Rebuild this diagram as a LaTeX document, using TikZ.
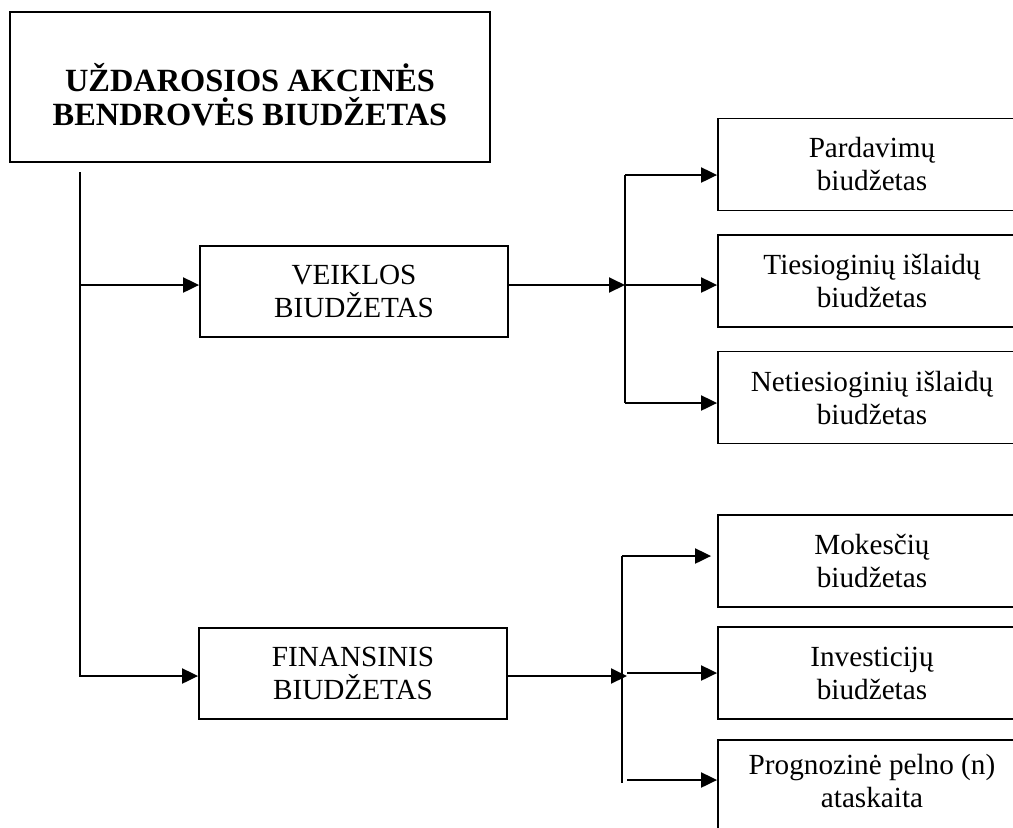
\documentclass[tikz,border=0pt]{standalone}
\usepackage{fontspec}
\setmainfont{Liberation Serif}
\usetikzlibrary{arrows.meta}
\begin{document}
\begin{tikzpicture}[x=0.5pt,y=-0.5pt,
		box/.style={draw,line width=0.9pt,align=center,inner sep=0pt,font=\fontsize{14.6}{16.5}\selectfont},
		arr/.style={line width=1pt,-{Triangle[length=8pt,width=7.5pt]}}]
	\useasboundingbox (0,0) rectangle (1013,827);
	\clip (0,0) rectangle (1013,827);
	\node[box,minimum width=240pt,minimum height=75pt,text height=39pt,font=\fontsize{16.2}{17}\selectfont\bfseries] (ubb) at (250,87) {UŽDAROSIOS AKCINĖS\\BENDROVĖS BIUDŽETAS};
	\node[box,minimum width=154pt,minimum height=45.5pt] (veik) at (354,291.5) {VEIKLOS\\BIUDŽETAS};
	\node[box,minimum width=154pt,minimum height=45.5pt] (fin) at (353,673.5) {FINANSINIS\\BIUDŽETAS};
	\foreach \n/\y/\t in {par/164.5/Pardavimų, tie/281/Tiesioginių išlaidų, net/397.5/Netiesioginių išlaidų, mok/561/Mokesčių, inv/673/Investicijų} {
		\node[box,minimum width=154pt,minimum height=46pt] (\n) at (872,\y) {\t\\biudžetas};
	}
	\node[box,minimum width=154pt,minimum height=48pt,text depth=7pt] (prog) at (872,788) {Prognozinė pelno (n)\\ataskaita};
	\coordinate (trunk) at (80,172);
	\coordinate (v1) at (625,175);
	\coordinate (vsplit) at (625,285);
	\coordinate (v3) at (625,403);
	\coordinate (f1) at (622,556);
	\coordinate (fsplit) at (622,676);
	\coordinate (f2) at (627,673);
	\coordinate (f3) at (622,783);
	\coordinate (f4) at (627,780);
	\draw[arr] (trunk) |- (veik.west |- vsplit);
	\draw[arr] (trunk) |- (fin.west |- fsplit);
	% veiklos
	\draw[arr] (veik.east |- vsplit) -- (vsplit);
	\draw[line width=1pt] (v1) -- (v3);
	\foreach \a/\b in {v1/par,vsplit/tie,v3/net} {
		\draw[arr] (\a) -- (\a -| \b.west);
	}
	% finansinis
	\draw[arr] (fin.east |- fsplit) -- ([xshift=2.5pt]fsplit);
	\draw[line width=1pt] (f1) -- (f3);
	\draw[arr] (f1) -- ([xshift=-3pt]f1 -| mok.west);
	\foreach \a/\b in {f2/inv,f4/prog} {
		\draw[arr] (\a) -- (\a -| \b.west);
	}
\end{tikzpicture}
\end{document}
